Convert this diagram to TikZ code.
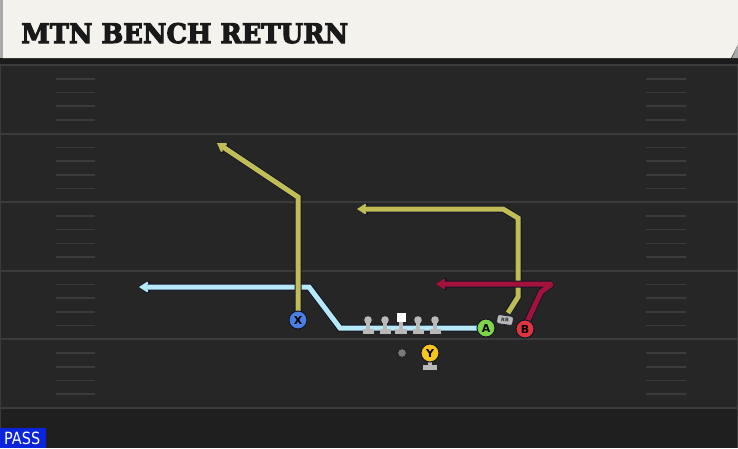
\documentclass[tikz,border=0pt]{standalone}
\usepackage{fontspec}
\setmainfont{DejaVu Sans}
\newfontfamily\titlefont[BoldFeatures={FakeBold=4}]{DejaVu Serif}
\usetikzlibrary{arrows.meta}
\definecolor{bgc}{HTML}{262626}
\definecolor{bgbot}{HTML}{1F1F1F}
\definecolor{linec}{HTML}{3B3B3B}
\definecolor{hdr}{HTML}{F4F2EC}
\definecolor{hdredge}{HTML}{A8A8A8}
\definecolor{band}{HTML}{1B1B1B}
\definecolor{outl}{HTML}{15152A}
\definecolor{ylw}{HTML}{C0BD55}
\definecolor{lblue}{HTML}{B5E9F7}
\definecolor{crim}{HTML}{A3123A}
\definecolor{xblue}{HTML}{4B7FE2}
\definecolor{agreen}{HTML}{7FD549}
\definecolor{bred}{HTML}{E2343F}
\definecolor{yyel}{HTML}{F4C51C}
\definecolor{olc}{HTML}{B9B9B9}
\definecolor{qbc}{HTML}{7A7A7A}
\definecolor{passblue}{HTML}{0A24DC}
\begin{document}
\begin{tikzpicture}[x=1pt,y=-1pt,
  yardline/.style={draw=linec, line width=2pt},
  hashmark/.style={draw=linec, line width=1.6pt},
  routeout/.style={draw=outl, line width=7pt, line join=miter, miter limit=2,
    -{Stealth[length=13pt,width=17pt,inset=4.5pt]}},
  route/.style={line width=5pt, line join=miter, miter limit=2,
    -{Stealth[length=11pt,width=14pt,inset=4pt]}},
  player/.style={circle, minimum size=18pt, inner sep=0pt, draw=outl,
    line width=1pt, text=black, font=\bfseries\fontsize{11}{11}\selectfont},
  lineman/.pic={
    \fill[olc] (0,-7) circle (3.8);
    \fill[olc] (-2,-7) rectangle (2,2);
    \fill[olc] (-5.5,2) rectangle (5.5,7);
  }]
\useasboundingbox (0,0) rectangle (738,448);
% field
\fill[bgc] (0,0) rectangle (738,448);
\fill[bgbot] (0,408) rectangle (738,448);
\draw[linec, line width=1pt] (0.5,58) -- (0.5,448);
\draw[linec, line width=1pt] (737.5,58) -- (737.5,448);
\foreach \k in {0,...,5} {
  \draw[yardline] (0,65+68.6*\k) -- (738,65+68.6*\k);
}
\foreach \k in {1,...,24} {
  \pgfmathtruncatemacro{\m}{mod(\k,5)}
  \ifnum\m>0
    \draw[hashmark] (56,65+13.72*\k) -- (95,65+13.72*\k);
    \draw[hashmark] (646,65+13.72*\k) -- (686,65+13.72*\k);
  \fi
}
% header
\fill[band] (0,58) rectangle (738,63.5);
\fill[hdredge] (0,0) rectangle (3,58);
\fill[hdredge] (732,58) -- (738,44) -- (738,58) -- cycle;
\fill[hdr] (3,0) -- (738,0) -- (738,44) -- (731,58) -- (3,58) -- cycle;
\node[anchor=base west, inner sep=0pt, text=black!90] (title) at (21,43)
  {\resizebox{327pt}{20pt}{\titlefont\bfseries MTN BENCH RETURN}};
% player positions
\coordinate (X) at (298,320);
\coordinate (A) at (486,328);
\coordinate (B) at (525,329);
\coordinate (Y) at (430,353);
\coordinate (RBp) at (505,320);
% route waypoints
\coordinate (x1) at (298,197);
\coordinate (x2) at (217,143);
\coordinate (a1) at (340,328);
\coordinate (a2) at (309,287);
\coordinate (a3) at (139,287);
\coordinate (r0) at (508,313);
\coordinate (r1) at (518,297);
\coordinate (r2) at (518,218);
\coordinate (r3) at (503,209);
\coordinate (r4) at (357,209);
\coordinate (b0) at (527,322);
\coordinate (b1) at (541,292);
\coordinate (b2) at (552,284);
\coordinate (b3) at (436,284);
% routes (outline then colour)
\draw[routeout] (A) -- (a1) -- (a2) -- (a3);
\draw[route, draw=lblue] (A) -- (a1) -- (a2) -- (a3);
\draw[routeout] (X) -- (x1) -- (x2);
\draw[route, draw=ylw] (X) -- (x1) -- (x2);
\draw[routeout] (r0) -- (r1) -- (r2) -- (r3) -- (r4);
\draw[route, draw=ylw] (r0) -- (r1) -- (r2) -- (r3) -- (r4);
\draw[routeout] (B) -- (b0) -- (b1) -- (b2) -- (b3);
\draw[route, draw=crim] (B) -- (b0) -- (b1) -- (b2) -- (b3);
% offensive line
\pic at (368,327) {lineman};
\pic at (385,327) {lineman};
\pic at (418,327) {lineman};
\pic at (435,327) {lineman};
\fill[olc] (399,318) rectangle (403,329);
\fill[olc] (395,329) rectangle (407,334);
\node[fill=white, minimum size=8.5pt, inner sep=0pt] (C) at (401.5,317.5) {};
% QB dot
\node[circle, fill=qbc, draw=outl, line width=0.5pt, minimum size=8.5pt, inner sep=0pt] (QB) at (402,353) {};
% Y with base
\fill[olc] (428,358) rectangle (432,366);
\fill[olc] (423,365) rectangle (437,369.5);
% RB tag
\node[rounded corners=2pt, fill=olc, draw=outl, line width=0.6pt, minimum width=16pt,
  minimum height=9pt, inner sep=0pt, text=black!80, font=\bfseries\fontsize{5}{5}\selectfont,
  rotate=-8] (RB) at (RBp) {RB};
% players
\node[player, fill=xblue] (Xn) at (X) {X};
\node[player, fill=agreen] (An) at (A) {A};
\node[player, fill=bred] (Bn) at (B) {B};
\node[player, fill=yyel] (Yn) at (Y) {Y};
% PASS label
\fill[passblue] (0,428) rectangle (46,448);
\node[anchor=base west, inner sep=0pt, text=white] (pass) at (4,444.5)
  {\resizebox{36pt}{12.5pt}{PASS}};
\end{tikzpicture}
\end{document}
